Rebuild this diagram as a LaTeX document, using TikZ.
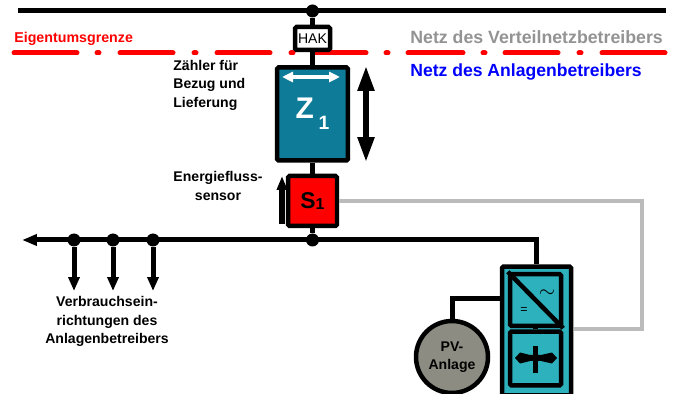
\documentclass[tikz,border=0pt]{standalone}
\usepackage{fontspec}
\setmainfont{Liberation Sans}
\usetikzlibrary{positioning}
\usetikzlibrary{arrows.meta}
\definecolor{zteal}{HTML}{0E7C98}
\definecolor{invteal}{HTML}{2CB1BD}
\definecolor{pvgrey}{HTML}{8C8C82}
\definecolor{sigre}{HTML}{BBBBBB}
\begin{document}
\begin{tikzpicture}[
  x=0.02cm, y=-0.02cm,
  font=\fontsize{8}{10.4}\selectfont\bfseries,
  box/.style={draw, line width=0.09cm, rounded corners=0.03cm, align=center, inner sep=0pt},
  dot/.style={circle, fill=black, inner sep=0pt, minimum size=0.26cm},
  wire/.style={line width=0.1cm},
  feed/.style={line width=0.1cm, -{Triangle[length=0.28cm, width=0.22cm]}},
  bigflow/.style={line width=0.11cm, {Triangle[length=0.5cm, width=0.32cm]}-{Triangle[length=0.5cm, width=0.32cm]}},
  border/.style={red, line width=0.1cm, line cap=round},
  lbl/.style={align=center, inner sep=0pt}
]
\useasboundingbox (0,0) rectangle (679,394);

% Property boundary
\foreach \a/\b in {14/77,120/173,217/270,313/366,408/463,505/558,602/665}
  \draw[border] (\a,53) -- (\b,53);
\foreach \a in {98,195,292,387,484,580}
  \draw[border] (\a-1,53) -- (\a+1,53);

% Grid side
\coordinate (gridw) at (18,11);
\coordinate (gride) at (666,11);
\draw[wire] (gridw) -- (gride);
\node[dot] (gridtap) at (312.5,11) {};

% Meter and sensor
\node[box, fill=white, minimum width=0.7cm, minimum height=0.46cm, font=\fontsize{8}{9}\selectfont] (hak) at (312.5,38.5) {HAK};
\node[box, fill=zteal, text=white, minimum width=1.42cm, minimum height=1.86cm, below=0.26cm of hak, font=\fontsize{17}{20}\selectfont\bfseries] (z1) {Z\,\raisebox{-6pt}{\fontsize{11}{11}\selectfont 1}};
\node[box, fill=red, minimum width=0.98cm, minimum height=1.0cm, below=0.22cm of z1, font=\fontsize{13}{14}\selectfont\bfseries] (s1) {S\raisebox{-0.5pt}{\fontsize{9}{9}\selectfont 1}};

\draw[wire] (gridtap) -- (hak);
\draw[wire] (hak) -- (z1);
\draw[wire] (z1) -- (s1);

% Flow arrows
\coordinate (zflowl) at (282,77);
\coordinate (zflowr) at (340,77);
\draw[white, line width=0.08cm, {Triangle[length=0.22cm, width=0.2cm]}-{Triangle[length=0.22cm, width=0.2cm]}] (zflowl) -- (zflowr);
\coordinate (meterup) at (366,66);
\coordinate (meterdn) at (366,162);
\draw[bigflow] (meterup) -- (meterdn);
\coordinate (sensdn) at (282,224);
\coordinate (sensup) at (282,176);
\draw[line width=0.11cm, -{Triangle[length=0.28cm, width=0.2cm]}] (sensdn) -- (sensup);

% Inverter
\node[box, fill=invteal, minimum width=1.38cm, minimum height=2.58cm] (inv) at (536.5,331) {};
\node[box, minimum width=1.02cm, minimum height=1.04cm] (conv) at (535.5,300) {};
\node[box, minimum width=1.02cm, minimum height=1.08cm] (store) at (535.5,358.5) {};
\draw[wire] (conv) -- (store);
\draw[line width=0.09cm] (conv.north west) -- (conv.south east);
\node[lbl, font=\fontsize{13}{13}\selectfont] (acsign) at (547,294) {$\sim$};
\node[lbl, font=\fontsize{7}{7}\selectfont] (dcsign) at (524,310) {=};
\draw[wire] (535.5,346) -- (535.5,373);
\fill (515,358) -- (520,352.5) -- (530,355) -- (541,355) -- (552,352.5) -- (557,358) -- (552,363.5) -- (541,361) -- (530,361) -- (520,363.5) -- cycle;

% Consumer bus
\coordinate (busw) at (22,240);
\draw[wire, -{Triangle[length=0.3cm, width=0.22cm]}] (inv.north) |- (busw);
\node[dot] (bustap) at (312.5,240) {};
\draw[wire] (s1) -- (bustap);
\foreach \i/\x in {1/74,2/113,3/153} {
  \node[dot] (tap\i) at (\x,240) {};
  \coordinate (load\i) at (\x,291);
  \draw[feed] (tap\i) -- (load\i);
}

% PV plant
\node[box, circle, fill=pvgrey, minimum size=1.44cm, font=\fontsize{8}{10}\selectfont\bfseries] (pv) at (452,357) {PV-\\Anlage};
\coordinate (invpv) at (500,299);
\draw[wire] (pv.north) |- (invpv);

% Sensor signal
\coordinate (sigcorner) at (642,329);
\coordinate (invsig) at (574,329);
\draw[sigre, line width=0.07cm] (s1.east) -| (sigcorner) -- (invsig);

% Labels
\node[lbl, red, anchor=west, font=\fontsize{8.1}{10}\selectfont\bfseries] (eigen) at (14,39) {Eigentumsgrenze};
\node[lbl, gray!85, anchor=west, font=\fontsize{10.1}{11}\selectfont\bfseries] (vnb) at (410,37) {Netz des Verteilnetzbetreibers};
\node[lbl, blue, anchor=west, font=\fontsize{10}{11}\selectfont\bfseries] (anb) at (410,72) {Netz des Anlagenbetreibers};
\node[lbl, align=left, anchor=north west] (zlabel) at (173,60) {Zähler für\\Bezug und\\Lieferung};
\node[lbl] (slabel) at (218,186) {Energiefluss-\\sensor};
\node[lbl] (loadlabel) at (107,321.5) {Verbrauchsein-\\richtungen des\\Anlagenbetreibers};

\end{tikzpicture}
\end{document}
